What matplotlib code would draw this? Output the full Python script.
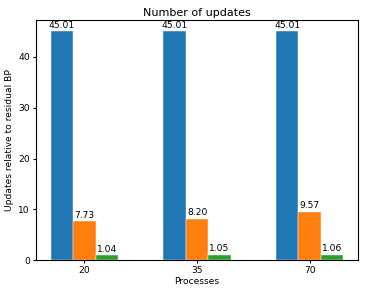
import matplotlib
matplotlib.use("Agg")
import matplotlib.pyplot as plt
import numpy as np

processes = ["20", "35", "70"]
series_a = [45.01, 45.01, 45.01]
series_b = [7.73, 8.20, 9.57]
series_c = [1.04, 1.05, 1.06]
colors = ["#1f77b4", "#ff7f0e", "#2ca02c"]

fig, ax = plt.subplots(figsize=(3.68, 2.94), dpi=100)
x = np.arange(len(processes))
w = 0.2
fs = 6.6
for i, (vals, c) in enumerate(zip([series_a, series_b, series_c], colors)):
    bars = ax.bar(x + (i - 1) * w, vals, w, color=c, edgecolor="white", linewidth=0.3)
    for b, v in zip(bars, vals):
        ax.annotate(f"{v:.2f}", (b.get_x() + b.get_width() / 2, v),
                    xytext=(0, 1), textcoords="offset points",
                    ha="center", va="bottom", fontsize=fs)

ax.set_xticks(x)
ax.set_xticklabels(processes, fontsize=fs)
ax.tick_params(axis="both", labelsize=fs, length=2.5, pad=2)
ax.set_xlabel("Processes", fontsize=fs, labelpad=1)
ax.set_ylabel("Updates relative to residual BP", fontsize=fs, labelpad=3)
ax.set_title("Number of updates", fontsize=8, pad=3)
fig.subplots_adjust(left=0.098, right=0.973, top=0.932, bottom=0.115)
fig.savefig("out.png", dpi=100)
